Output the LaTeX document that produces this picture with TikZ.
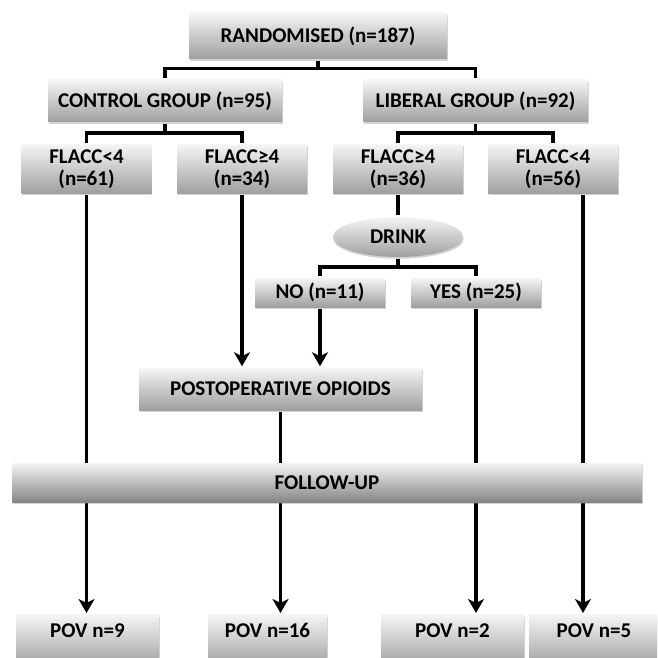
\documentclass[tikz,border=0pt]{standalone}
\usepackage{fontspec}
\setmainfont{Carlito}
\usepackage{tikz}
\usetikzlibrary{positioning,shapes,arrows.meta,shadows,calc}

\begin{document}
\begin{tikzpicture}[x=1pt, y=-1pt, line width=3.5pt, >={Stealth[length=14pt,width=16pt,inset=4pt]}, every node/.style={font=\bfseries\fontsize{21}{21.5}\selectfont}]
    \tikzstyle{box} = [rectangle, inner sep=0pt, align=center, draw=none, top color=gray!8, bottom color=gray!75, drop shadow={shadow xshift=0.6pt, shadow yshift=-1.8pt, opacity=0.35}]
    \tikzstyle{flacc} = [box, minimum width=130pt, minimum height=49pt]
    \tikzstyle{answer} = [box, minimum width=130pt, minimum height=29pt]
    \tikzstyle{oval} = [ellipse, inner sep=0pt, minimum width=130pt, minimum height=40pt, top color=gray!8, bottom color=gray!75, drop shadow={shadow xshift=0.6pt, shadow yshift=-1.8pt, opacity=0.35}]
    \tikzstyle{bar} = [box, bottom color=gray!95]
    \tikzstyle{result} = [box, anchor=north, text height=23pt, text depth=29pt]

    \clip (0,0) rectangle (657,658);

    % Randomisation and groups
    \node [box, minimum width=258pt, minimum height=46pt] (rand) at (318,36) {RANDOMISED (n=187)};
    \node [box, minimum width=234pt, minimum height=42pt] (control) at (165,101) {CONTROL GROUP (n=95)};
    \node [box, minimum width=225pt, minimum height=42pt] (liberal) at (475.5,101) {LIBERAL GROUP (n=92)};

    % FLACC scores
    \node [flacc] (ctrllow) at (86.5,169) {FLACC<4\\(n=61)};
    \node [flacc] (ctrlhigh) at (242,169) {FLACC≥4\\(n=34)};
    \node [flacc] (libhigh) at (398,169) {FLACC≥4\\(n=36)};
    \node [flacc] (liblow) at (553,169) {FLACC<4\\(n=56)};

    % Drink
    \node [oval] (drink) at (398,237) {DRINK};
    \node [answer] (no) at (320,292.5) {NO (n=11)};
    \node [answer] (yes) at (476,292.5) {YES (n=25)};

    % Opioids
    \node [box, minimum width=283pt, minimum height=42pt] (opioids) at (280.5,389) {POSTOPERATIVE OPIOIDS};

    % Outcomes
    \node [result, minimum width=143pt] (pov9) at (87.5,613) {POV n=9};
    \node [result, minimum width=119pt] (pov16) at (267.5,613) {POV n=16};
    \node [result, minimum width=143pt] (pov2) at (452.5,613) {POV n=2};
    \node [result, minimum width=130pt] (pov5) at (594,613) {POV n=5};

    % Branches
    \draw (rand.south) -- ++(0,8) -| (control.north);
    \draw (rand.south) -- ++(0,8) -| (liberal.north);
    \draw (control.south) -- ++(0,9) -| (ctrllow.north);
    \draw (control.south) -- ++(0,9) -| (ctrlhigh.north);
    \draw (liberal.south) -- ++(0,9) -| (libhigh.north);
    \draw (liberal.south) -- ++(0,9) -| (liblow.north);
    \draw (libhigh.south) -- (drink.north);
    \draw (drink.south) -- ++(0,8) -| (no.north);
    \draw (drink.south) -- ++(0,8) -| (yes.north);

    % Arrows
    \draw [->] (ctrlhigh.south) -- (ctrlhigh.south |- opioids.north);
    \draw [->] (no.south) -- (no.south |- opioids.north);
    \draw [->] (ctrllow.south) -- (ctrllow.south |- pov9.north);
    \draw [->] (opioids.south) -- (opioids.south |- pov16.north);
    \draw [->] (yes.south) -- (yes.south |- pov2.north);
    \draw [->] ([xshift=30pt]liblow.south) -- ([xshift=30pt]liblow.south |- pov5.north);

    % Follow-up bar over the lines
    \node [bar, minimum width=630pt, minimum height=39pt] (followup) at (327,482.5) {FOLLOW-UP};
\end{tikzpicture}
\end{document}
